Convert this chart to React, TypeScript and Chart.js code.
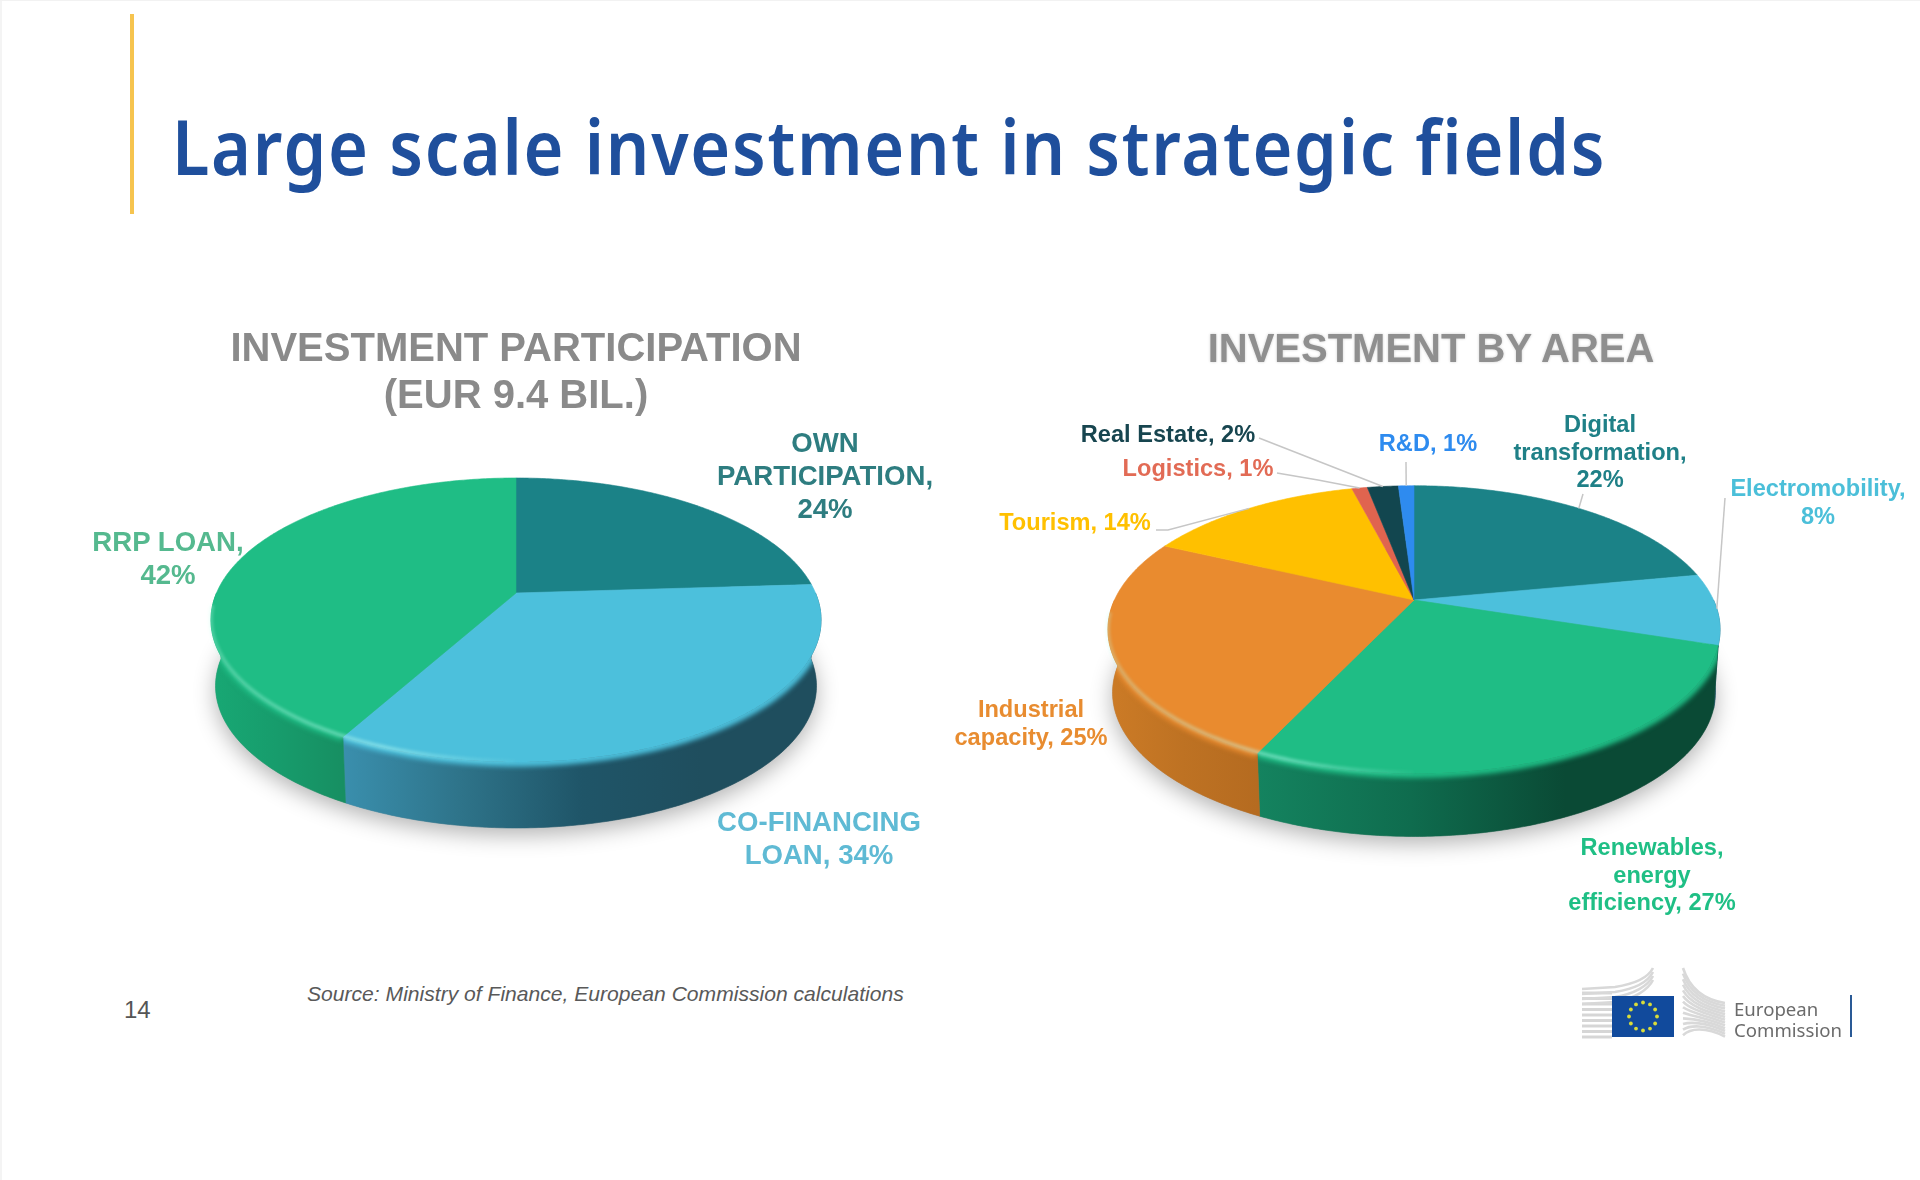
import React, { useEffect, useRef } from "react";
import { Chart, registerables } from "chart.js";

Chart.register(...registerables);

// ---- data ----
const participationLabels = ["OWN\nPARTICIPATION,\n{v}%", "CO-FINANCING\nLOAN, {v}%", "RRP LOAN,\n{v}%"];
const participationValues = [24, 34, 42];
const areaLabels = [
  "Digital\ntransformation,\n{v}%",
  "Electromobility,\n{v}%",
  "Renewables,\nenergy\nefficiency, {v}%",
  "Industrial\ncapacity, {v}%",
  "Tourism, {v}%",
  "Logistics, {v}%",
  "Real Estate, {v}%",
  "R&D, {v}%",
];
const areaValues = [22, 8, 27, 25, 14, 1, 2, 1];

// ---- styles and layout ----
const participationColors = ["#1B8287", "#4CC0DC", "#1FBD85"];
const areaColors = ["#1B8287", "#4CC0DC", "#1FBD85", "#E98B2F", "#FFC000", "#E0644F", "#12464F", "#2E8BEF"];
const participationWalls = [
  ["#1B6E72", "#1B6E72"],
  ["#3A8FAD", "#2E7389", "#1F5568", "#1F4E5E", "#1F4E5E"],
  ["#18A874", "#179C6C", "#178F62"],
];
const areaWalls = [
  ["#145E62", "#145E62"],
  ["#1E5568", "#1E5568"],
  ["#14835F", "#0F6C4E", "#0A4A35", "#0A4A35"],
  ["#CC7B26", "#BE7223", "#B56B20"],
  ["#C99700", "#C99700"],
  ["#A84A3A", "#A84A3A"],
  ["#0C3238", "#0C3238"],
  ["#1F66B5", "#1F66B5"],
];
const participationLabelColors = ["#2E7D80", "#5FBAD4", "#55B98F"];
const areaLabelColors = ["#1F8087", "#4BBFD9", "#1FBF85", "#E88C30", "#FFC000", "#E26B55", "#17454F", "#2E8BEF"];
const participationLabelPos = [
  [825, 442],
  [819, 821],
  [168, 541],
];
const areaLabelPos = [
  [1600, 425],
  [1818, 489],
  [1652, 848],
  [1031, 710],
  [1075, 523],
  [1198, 469],
  [1168, 435],
  [1428, 444],
];
// leader start (page px) and optional elbow per slice, end is taken from the slice itself
const areaLeaders = [
  [[1583, 494]],
  [[1725, 498]],
  null,
  null,
  [[1156, 530], [1168, 530]],
  [[1277, 473], [1318, 480]],
  [[1259, 438]],
  [[1406, 462]],
];

const CANVAS = 700;
type PieCfg = {
  key: string;
  apex: [number, number];
  k: number;
  flat: number;
  depth: number;
  walls: string[][];
  leaders?: any[];
};

function piePlugin(cfg: PieCfg) {
  return {
    id: "perspectivePie",
    beforeDatasetsDraw(chart: any) {
      const ctx: CanvasRenderingContext2D = chart.ctx;
      const meta = chart.getDatasetMeta(0);
      const first = meta.data[0];
      const cx = first.x;
      const cy = first.y;
      const a = first.outerRadius;
      const b = a * cfg.flat;
      const k = cfg.k;
      const top = (phi: number) => {
        const u = Math.sin(phi);
        const v = -Math.cos(phi);
        const s = 1 / (1 - k * v);
        return [cx + a * u * s, cy + b * v * s];
      };
      const bottom = (phi: number) => {
        const u = Math.sin(phi);
        const v = -Math.cos(phi);
        const s = 1 / (1 - k * v);
        return [cx + 0.985 * a * u * s, cy + cfg.depth + b * v * s];
      };
      const range = (p0: number, p1: number) => {
        const n = Math.max(2, Math.ceil((p1 - p0) * 90));
        const out: number[] = [];
        for (let i = 0; i <= n; i++) out.push(p0 + ((p1 - p0) * i) / n);
        return out;
      };

      // soft ground shadow
      ctx.save();
      ctx.beginPath();
      range(0, Math.PI * 2).forEach((p, i) => {
        const [x, y] = bottom(p);
        i ? ctx.lineTo(x, y) : ctx.moveTo(x, y);
      });
      ctx.closePath();
      ctx.shadowColor = "rgba(0,0,0,0.3)";
      ctx.shadowBlur = 22;
      ctx.shadowOffsetY = 7;
      ctx.fillStyle = "#999";
      ctx.fill();
      ctx.restore();

      const front0 = Math.PI / 2;
      const front1 = (Math.PI * 3) / 2;

      meta.data.forEach((arc: any, idx: number) => {
        const p0 = Math.max(arc.startAngle + Math.PI / 2, front0);
        const p1 = Math.min(arc.endAngle + Math.PI / 2, front1);
        if (p1 <= p0) return;
        const ps = range(p0, p1);
        const xs = ps.map((p) => top(p)[0]);
        const xMin = Math.min(...xs);
        const xMax = Math.max(...xs);
        const grad = ctx.createLinearGradient(xMin, 0, xMax, 0);
        const stops = cfg.walls[idx];
        stops.forEach((c, i) => grad.addColorStop(i / (stops.length - 1), c));
        ctx.beginPath();
        ps.forEach((p, i) => {
          const [x, y] = top(p);
          i ? ctx.lineTo(x, y) : ctx.moveTo(x, y);
        });
        ps.slice()
          .reverse()
          .forEach((p) => {
            const [x, y] = bottom(p);
            ctx.lineTo(x, y);
          });
        ctx.closePath();
        ctx.fillStyle = grad;
        ctx.fill();
        ctx.strokeStyle = grad;
        ctx.lineWidth = 0.6;
        ctx.stroke();

        // soft edge where the face rolls over into the wall
        ctx.save();
        ctx.clip();
        ctx.filter = "blur(2.5px)";
        ctx.beginPath();
        ps.forEach((p, i) => {
          const [x, y] = top(p);
          i ? ctx.lineTo(x, y) : ctx.moveTo(x, y);
        });
        ctx.strokeStyle = arc.options.backgroundColor;
        ctx.lineWidth = 9;
        ctx.stroke();
        ctx.restore();
      });

      // top faces
      meta.data.forEach((arc: any) => {
        const p0 = arc.startAngle + Math.PI / 2;
        const p1 = arc.endAngle + Math.PI / 2;
        ctx.beginPath();
        ctx.moveTo(cx, cy);
        range(p0, p1).forEach((p) => {
          const [x, y] = top(p);
          ctx.lineTo(x, y);
        });
        ctx.closePath();
        ctx.fillStyle = arc.options.backgroundColor;
        ctx.strokeStyle = arc.options.backgroundColor;
        ctx.lineWidth = 0.6;
        ctx.fill();
        ctx.stroke();
      });

      // highlight running along the front rim, strongest on the left
      ctx.save();
      ctx.filter = "blur(1.5px)";
      const shine = ctx.createLinearGradient(cx - a, 0, cx + 10, 0);
      shine.addColorStop(0, "rgba(190,255,235,0.28)");
      shine.addColorStop(0.55, "rgba(190,255,245,0.42)");
      shine.addColorStop(1, "rgba(190,255,245,0)");
      ctx.beginPath();
      range(Math.PI, Math.PI * 1.47).forEach((p, i) => {
        const [x, y] = top(p);
        i ? ctx.lineTo(x, y - 1) : ctx.moveTo(x, y - 1);
      });
      ctx.strokeStyle = shine;
      ctx.lineWidth = 4;
      ctx.stroke();
      ctx.restore();

      // leader lines
      if (cfg.leaders) {
        const ox = cfg.apex[0] - CANVAS / 2;
        const oy = cfg.apex[1] - CANVAS / 2;
        ctx.strokeStyle = "#C6C6C6";
        ctx.lineWidth = 1.5;
        meta.data.forEach((arc: any, idx: number) => {
          const pts = cfg.leaders![idx];
          if (!pts) return;
          const mid = (arc.startAngle + arc.endAngle) / 2 + Math.PI / 2;
          const [ex, ey] = top(mid);
          ctx.beginPath();
          pts.forEach((pt: number[], i: number) => {
            i ? ctx.lineTo(pt[0] - ox, pt[1] - oy) : ctx.moveTo(pt[0] - ox, pt[1] - oy);
          });
          ctx.lineTo(ex, ey);
          ctx.stroke();
        });
      }
      return false;
    },
  };
}

function Pie({ cfg, values, colors, labels }: { cfg: PieCfg; values: number[]; colors: string[]; labels: string[] }) {
  const ref = useRef<HTMLCanvasElement>(null);
  useEffect(() => {
    const chart = new Chart(ref.current as HTMLCanvasElement, {
      type: "pie",
      data: { labels, datasets: [{ data: values, backgroundColor: colors, borderWidth: 0 }] },
      options: {
        responsive: false,
        animation: false,
        events: [],
        layout: { padding: 50.5 },
        plugins: { legend: { display: false }, tooltip: { enabled: false } },
      },
      plugins: [piePlugin(cfg)],
    } as any);
    return () => chart.destroy();
  }, []);
  return (
    <canvas
      ref={ref}
      width={CANVAS}
      height={CANVAS}
      style={{
        position: "absolute",
        left: cfg.apex[0] - CANVAS / 2,
        top: cfg.apex[1] - CANVAS / 2,
        width: CANVAS,
        height: CANVAS,
      }}
    />
  );
}

const SANS = '"Liberation Sans", Arial, sans-serif';

function Label({ text, x, y, color, size, lh }: { text: string; x: number; y: number; color: string; size: number; lh: number }) {
  return (
    <div
      style={{
        position: "absolute",
        left: x,
        top: y - lh / 2,
        transform: "translateX(-50%)",
        color,
        font: `bold ${size}px/${lh}px ${SANS}`,
        textAlign: "center",
        whiteSpace: "pre",
        zIndex: 2,
      }}
    >
      {text}
    </div>
  );
}

function Logo() {
  const stars = Array.from({ length: 12 }, (_, i) => i);
  const leftLines = Array.from({ length: 9 }, (_, i) => i);
  const rightLines = Array.from({ length: 13 }, (_, i) => i);
  return (
    <svg style={{ position: "absolute", left: 0, top: 0, zIndex: 1 }} width={1920} height={1180}>
      {leftLines.map((i) => (
        <path key={i} d={`M1582 ${1037 - i * 5.5} L1612 ${1037 - i * 5.5}`} stroke="#D6D6D6" strokeWidth={3} fill="none" />
      ))}
      {[0, 1, 2, 3].map((i) => (
        <path
          key={"t" + i}
          d={`M1582 ${1004 - i * 5} L1615 ${1002 - i * 5} C1634 ${999 - i * 5} 1648 ${990 - i * 4} 1653 ${980 - i * 4}`}
          stroke="#D8D8D8"
          strokeWidth={2.6}
          fill="none"
        />
      ))}
      {rightLines.map((i) => (
        <path
          key={"r" + i}
          d={`M1683 ${968 + i * 5.6} C1690 ${990 + i * 3.2} 1705 ${1000 + i * 2.2} 1725 ${1003 + i * 2.8}`}
          stroke="#D9D9D9"
          strokeWidth={2.6}
          fill="none"
        />
      ))}
      <rect x={1612} y={996} width={62} height={41} fill="#114A9C" />
      {stars.map((i) => {
        const t = (i * Math.PI) / 6;
        return <circle key={"s" + i} cx={1643 + 14 * Math.sin(t)} cy={1016.5 - 14 * Math.cos(t)} r={1.9} fill="#D9DC3A" />;
      })}
      <rect x={1850} y={995} width={2} height={42} fill="#2A5A96" />
      <text x={1734} y={1016} fontFamily='"Noto Sans", sans-serif' fontSize={18.6} fill="#6B6B6B">
        European
      </text>
      <text x={1734} y={1037} fontFamily='"Noto Sans", sans-serif' fontSize={18.6} fill="#6B6B6B">
        Commission
      </text>
    </svg>
  );
}

const participationCfg: PieCfg = {
  key: "participation",
  apex: [516, 593],
  k: 0.19,
  flat: 0.457,
  depth: 66,
  walls: participationWalls,
};
const areaCfg: PieCfg = {
  key: "area",
  apex: [1414, 600],
  k: 0.2057,
  flat: 0.46,
  depth: 63,
  walls: areaWalls,
  leaders: areaLeaders,
};

export default function App() {
  useEffect(() => {
    document.body.style.margin = "0";
    document.body.style.background = "#fff";
  }, []);
  const fill = (t: string, v: number) => t.replace("{v}", String(v));
  return (
    <div style={{ position: "relative", width: 1920, height: 1180, overflow: "hidden", background: "#fff" }}>
      <div style={{ position: "absolute", left: 0, top: 0, width: 2, height: 1180, background: "#F4F4F4" }} />
      <div style={{ position: "absolute", left: 0, top: 0, width: 1920, height: 1, background: "#F2F2F2" }} />
      <div style={{ position: "absolute", left: 130, top: 14, width: 4, height: 200, background: "#F6C44F" }} />
      <div
        style={{
          position: "absolute",
          left: 172,
          top: 96,
          color: "#1F4F9C",
          font: `600 76px/100px "Noto Sans", sans-serif`,
          letterSpacing: 1.9,
          transform: "scaleX(0.9)",
          transformOrigin: "left center",
          whiteSpace: "pre",
        }}
      >
        Large scale investment in strategic fields
      </div>

      <Pie cfg={participationCfg} values={participationValues} colors={participationColors} labels={participationLabels} />
      <Pie cfg={areaCfg} values={areaValues} colors={areaColors} labels={areaLabels} />

      <div
        style={{
          position: "absolute",
          left: 516,
          top: 324,
          transform: "translateX(-50%)",
          textAlign: "center",
          color: "#8A8A8A",
          font: `bold 40px/47px ${SANS}`,
          whiteSpace: "pre",
          zIndex: 2,
        }}
      >
        {"INVESTMENT PARTICIPATION\n(EUR 9.4 BIL.)"}
      </div>
      <div
        style={{
          position: "absolute",
          left: 1431,
          top: 325,
          transform: "translateX(-50%)",
          color: "#8F8F8F",
          font: `bold 40px/47px ${SANS}`,
          whiteSpace: "pre",
          textShadow: "0 0 3px rgba(0,0,0,0.2)",
          zIndex: 2,
        }}
      >
        INVESTMENT BY AREA
      </div>

      {participationValues.map((v, i) => (
        <Label
          key={i}
          text={fill(participationLabels[i], v)}
          x={participationLabelPos[i][0]}
          y={participationLabelPos[i][1]}
          color={participationLabelColors[i]}
          size={27.6}
          lh={33}
        />
      ))}
      {areaValues.map((v, i) => (
        <Label
          key={i}
          text={fill(areaLabels[i], v)}
          x={areaLabelPos[i][0]}
          y={areaLabelPos[i][1]}
          color={areaLabelColors[i]}
          size={23.6}
          lh={27.5}
        />
      ))}

      <div
        style={{
          position: "absolute",
          left: 307,
          top: 981,
          color: "#595959",
          font: `italic 21.1px/26px ${SANS}`,
          whiteSpace: "pre",
        }}
      >
        Source: Ministry of Finance, European Commission calculations
      </div>
      <div style={{ position: "absolute", left: 124, top: 996, color: "#555", font: `24px/28px ${SANS}` }}>14</div>
      <Logo />
    </div>
  );
}
